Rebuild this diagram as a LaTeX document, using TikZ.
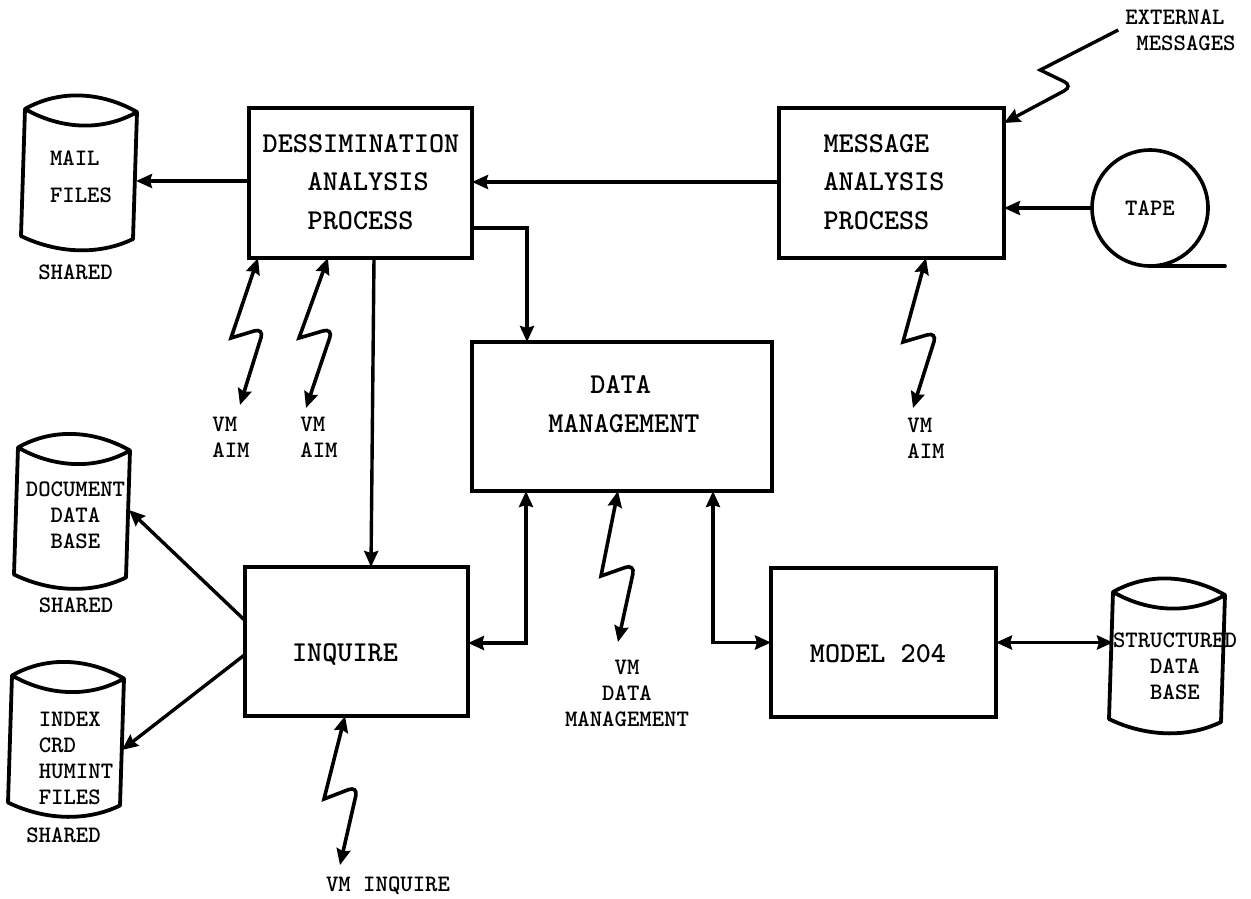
\documentclass[tikz,border=0pt]{standalone}
\usepackage{tikz}
\usetikzlibrary{positioning,arrows.meta}

\tikzset{
    procbox/.style={draw, line width=3.8pt, outer sep=0pt, inner sep=0pt},
    drum/.style={outer sep=0pt, inner sep=0pt, minimum width=112pt, minimum height=127pt},
    bigtext/.style={font=\fontsize{28.8}{38.5}\selectfont\ttfamily\bfseries, inner sep=0pt, align=left},
    smalltext/.style={font=\fontsize{23.6}{26}\selectfont\ttfamily\bfseries, inner sep=0pt, align=left},
    link/.style={line width=3.4pt, -{Stealth[length=16pt,width=14pt,inset=2pt]}},
    twoway/.style={line width=3.6pt, {Stealth[length=16pt,width=14pt,inset=2pt]}-{Stealth[length=16pt,width=14pt,inset=2pt]}}
}

% outline of a disk pack, hung on an empty node
\newcommand{\drumoutline}[1]{
    \path ([yshift=-3pt]#1.north east) coordinate (#1tr)
        ([xshift=-4pt,yshift=-3pt]#1.south east) coordinate (#1br)
        ([xshift=-4pt]#1.south west) coordinate (#1bl);
    \draw[line width=3.8pt, line join=round] (#1.north west)
        .. controls +(35,-20) and +(-35,-20) .. (#1tr)
        .. controls +(-35,20) and +(35,20) .. (#1.north west)
        -- (#1bl)
        .. controls +(35,17) and +(-35,17) .. (#1br)
        -- (#1tr);
}

\begin{document}
\begin{tikzpicture}[x=1pt,y=-1pt]

\useasboundingbox (0,0) rectangle (1251,898);

\node[procbox,
    minimum width=223pt,
    minimum height=150pt
] (dissem) at (360.5,183) {};

\node[procbox,
    right=307pt of dissem,
    minimum width=225pt,
    minimum height=150pt
] (message) {};

\node[procbox,
    below right=84pt and 0pt of dissem.south east,
    minimum width=300pt,
    minimum height=149pt
] (data) {};

\node[procbox,
    below left=76pt and 4pt of data.south west,
    minimum width=223pt,
    minimum height=149pt
] (inquire) {};

\node[procbox,
    below right=77pt and -1pt of data.south east,
    minimum width=225pt,
    minimum height=149pt
] (model) {};

\node[draw,
    circle,
    line width=3.6pt,
    right=88pt of message,
    yshift=-25pt,
    outer sep=0pt,
    inner sep=0pt,
    minimum size=116pt,
    font=\fontsize{23.6}{26}\selectfont\ttfamily\bfseries
] (tape) {TAPE};

\node[bigtext] (dissemtext) at (361,182) {DESSIMINATION\\\hspace*{45pt}ANALYSIS\\\hspace*{45pt}PROCESS};
\node[bigtext] (messagetext) at (884,182) {MESSAGE\\ANALYSIS\\PROCESS};
\node[bigtext] (datatext) at (624,404) {\hspace*{42pt}DATA\\MANAGEMENT};
\node[bigtext] (inquiretext) at (345,654) {INQUIRE};
\node[bigtext] (modeltext) at (878,654) {MODEL 204};

\node[drum] (mail) at (81,172.5) {};
\node[drum] (document) at (74,511) {};
\node[drum] (index) at (68,739) {};
\node[drum] (structured) at (1169,655.5) {};

\drumoutline{mail}
\drumoutline{document}
\drumoutline{index}
\drumoutline{structured}

\node[smalltext] (mailtext) at (81,177) {MAIL\\[11pt]FILES};
\node[smalltext, align=center] (documenttext) at (75.5,515) {DOCUMENT\\DATA\\BASE};
\node[smalltext] (indextext) at (76,758) {INDEX\\CRD\\HUMINT\\FILES};
\node[smalltext, align=center] (structuredtext) at (1175,666) {STRUCTURED\\DATA\\BASE};

\node[smalltext] (mailshared) at (75.5,272) {SHARED};
\node[smalltext] (documentshared) at (76,605) {SHARED};
\node[smalltext] (indexshared) at (63.5,835) {SHARED};

\node[smalltext] (vmaimone) at (231,437) {VM\\AIM};
\node[smalltext] (vmaimtwo) at (319,437) {VM\\AIM};
\node[smalltext] (vmaimthree) at (926,438) {VM\\AIM};
\node[smalltext] (vminquire) at (388,886) {VM INQUIRE};
\node[smalltext, align=center] (vmdata) at (627,693) {VM\\DATA\\MANAGEMENT};
\node[smalltext] (external) at (1180.5,30) {EXTERNAL\\\hspace*{11pt}MESSAGES};

\coordinate (aimonetip) at (240,405);
\coordinate (aimtwotip) at (306,408);
\coordinate (aimthreetip) at (913,408);
\coordinate (inquiretip) at (340,865);
\coordinate (datatip) at (618,642);

\draw[link] ([yshift=2pt]dissem.west) -- ([xshift=-1pt,yshift=-8.5pt]mail.east);
\draw[link] ([yshift=1pt]message.west) -- ([yshift=1pt]dissem.east);
\draw[link] (tape.west) -- (message.east |- tape.west);
\draw[link] ([xshift=-7pt]external.west) -- ++(-78,40) [rounded corners=10pt] -- ++(33,16) [sharp corners] -- ([yshift=-15pt]message.north east);
\draw[line width=3.6pt, line cap=round] (tape.south) -- ++(75,0);

\draw[link] ([yshift=-45pt]dissem.east) -| ([xshift=55pt]data.north west);
\draw[link] ([xshift=13.5pt]dissem.south) -- ([xshift=14.5pt]inquire.north);

\draw[link] ([yshift=21pt]inquire.west) -- ([xshift=-1pt,yshift=1pt]document.east);
\draw[link] ([yshift=-13pt]inquire.west) -- ([xshift=-2pt,yshift=-11pt]index.east);

\draw[twoway] ([yshift=-1.5pt]inquire.east) -| ([xshift=54pt]data.south west);
\draw[twoway] (model.west) -| ([xshift=-59pt]data.south east);
\draw[twoway] (model.east) -- (structured.west |- model.east);

\draw[twoway] ([xshift=9pt]dissem.south west) -- ++(-27,80) [rounded corners=10pt] -- ++(33,-10) [sharp corners] -- (aimonetip);
\draw[twoway] ([xshift=79pt]dissem.south west) -- ++(-29,80) [rounded corners=10pt] -- ++(34,-10) [sharp corners] -- (aimtwotip);
\draw[twoway] ([xshift=147pt]message.south west) -- ++(-23,84) [rounded corners=10pt] -- ++(34,-10) [sharp corners] -- (aimthreetip);
\draw[twoway] ([xshift=100pt]inquire.south west) -- ++(-21,83) [rounded corners=10pt] -- ++(34,-13) [sharp corners] -- (inquiretip);
\draw[twoway] ([xshift=146pt]data.south west) -- ++(-17,85) [rounded corners=10pt] -- ++(34,-12) [sharp corners] -- (datatip);

\end{tikzpicture}
\end{document}
